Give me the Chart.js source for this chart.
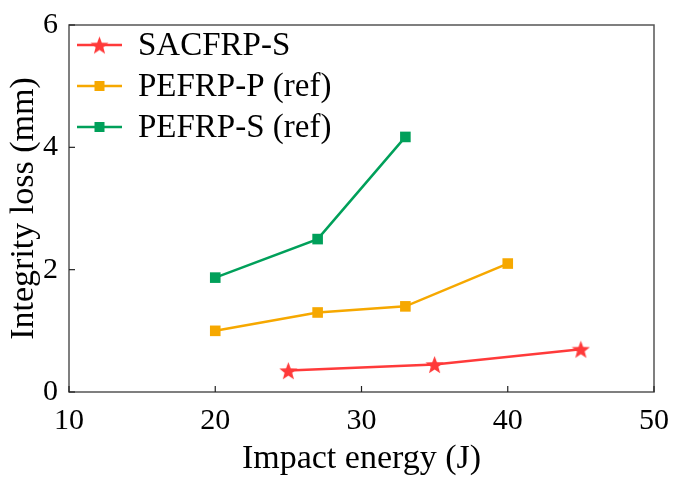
<!DOCTYPE html>
<html>
<head>
<meta charset="utf-8">
<script src="https://cdn.jsdelivr.net/npm/chart.js@4.4.1/dist/chart.umd.min.js"></script>
<style>
  html, body { margin: 0; padding: 0; background: #fff; }
  #wrap { width: 673px; height: 483px; }
</style>
</head>
<body>
<div id="wrap"><canvas id="lossChart" width="673" height="483"></canvas></div>
<script>
// impact energy (J) vs integrity loss (mm)
const sacEnergy = [25, 35, 45];
const sacLoss = [0.35, 0.45, 0.7];
const pefrpPEnergy = [20, 27, 33, 40];
const pefrpPLoss = [1.0, 1.3, 1.4, 2.1];
const pefrpSEnergy = [20, 27, 33];
const pefrpSLoss = [1.87, 2.5, 4.17];

const seriesNames = ["SACFRP-S", "PEFRP-P (ref)", "PEFRP-S (ref)"];
const xTicks = [10, 20, 30, 40, 50];
const yTicks = [0, 2, 4, 6];

const RED = "#ff3a3a";
const ORANGE = "#f6a800";
const GREEN = "#00a05a";
const FONT = "'Liberation Serif', 'Times New Roman', serif";

// filled five-pointed star used as a point image
function makeStar(size, color) {
	const c = document.createElement("canvas");
	c.width = size;
	c.height = size;
	const g = c.getContext("2d");
	const cx = size / 2, cy = size / 2 + 1;
	const outer = size / 2, inner = outer * 0.42;
	g.beginPath();
	for (let i = 0; i < 10; i++) {
		const r = i % 2 === 0 ? outer : inner;
		const a = -Math.PI / 2 + (i * Math.PI) / 5;
		const px = cx + r * Math.cos(a);
		const py = cy + r * Math.sin(a);
		if (i === 0) g.moveTo(px, py);
		else g.lineTo(px, py);
	}
	g.closePath();
	g.fillStyle = color;
	g.fill();
	return c;
}

const starImg = makeStar(19, RED);
const toPoints = (xs, ys) => xs.map((x, i) => ({ x: x, y: ys[i] }));

// box around plot + inward tick marks
const framePlugin = {
	id: "frame",
	afterDraw(chart) {
		const { ctx, chartArea: a, scales } = chart;
		ctx.save();
		ctx.strokeStyle = "#555";
		ctx.lineWidth = 1.5;
		ctx.strokeRect(a.left, a.top, a.right - a.left, a.bottom - a.top);
		ctx.strokeStyle = "#222";
		ctx.lineWidth = 1.2;
		xTicks.forEach((v) => {
			const px = scales.x.getPixelForValue(v);
			ctx.beginPath();
			ctx.moveTo(px, a.bottom);
			ctx.lineTo(px, a.bottom - 6);
			ctx.stroke();
		});
		yTicks.forEach((v) => {
			const py = scales.y.getPixelForValue(v);
			ctx.beginPath();
			ctx.moveTo(a.left, py);
			ctx.lineTo(a.left + 6, py);
			ctx.stroke();
		});
		ctx.restore();
	},
};

// legend with line + marker, drawn inside the plot area
const legendPlugin = {
	id: "lineLegend",
	afterDraw(chart) {
		const ctx = chart.ctx;
		const a = chart.chartArea;
		ctx.save();
		chart.data.datasets.forEach((ds, i) => {
			const y = a.top + 20 + i * 41;
			const x0 = a.left + 8;
			const x1 = a.left + 53;
			ctx.strokeStyle = ds.borderColor;
			ctx.lineWidth = 2.5;
			ctx.beginPath();
			ctx.moveTo(x0, y);
			ctx.lineTo(x1, y);
			ctx.stroke();
			const mx = (x0 + x1) / 2;
			if (ds.pointStyle === starImg) {
				ctx.drawImage(starImg, mx - starImg.width / 2, y - starImg.height / 2);
			} else {
				ctx.fillStyle = ds.pointBackgroundColor;
				ctx.fillRect(mx - 5, y - 5, 10, 10);
			}
			ctx.fillStyle = "#000";
			ctx.font = "33px " + FONT;
			ctx.textBaseline = "middle";
			ctx.fillText(ds.label, a.left + 69, y + 1);
		});
		ctx.restore();
	},
};

const ctx = document.getElementById("lossChart").getContext("2d");

new Chart(ctx, {
	type: "line",
	data: {
		datasets: [
			{
				label: seriesNames[0],
				data: toPoints(sacEnergy, sacLoss),
				borderColor: RED,
				backgroundColor: RED,
				pointBackgroundColor: RED,
				pointStyle: starImg,
				borderWidth: 2.5,
			},
			{
				label: seriesNames[1],
				data: toPoints(pefrpPEnergy, pefrpPLoss),
				borderColor: ORANGE,
				backgroundColor: ORANGE,
				pointBackgroundColor: ORANGE,
				pointStyle: "rect",
				pointRadius: 7.5,
				pointBorderWidth: 0,
				borderWidth: 2.5,
			},
			{
				label: seriesNames[2],
				data: toPoints(pefrpSEnergy, pefrpSLoss),
				borderColor: GREEN,
				backgroundColor: GREEN,
				pointBackgroundColor: GREEN,
				pointStyle: "rect",
				pointRadius: 7.5,
				pointBorderWidth: 0,
				borderWidth: 2.5,
			},
		],
	},
	options: {
		responsive: false,
		animation: false,
		layout: { padding: { top: 25, right: 19, left: 0, bottom: 0 } },
		plugins: {
			legend: { display: false },
			tooltip: { enabled: false },
		},
		scales: {
			x: {
				type: "linear",
				min: 10,
				max: 50,
				afterBuildTicks: (s) => { s.ticks = xTicks.map((v) => ({ value: v })); },
				afterFit: (s) => { s.height = 91; },
				grid: { display: false },
				border: { display: false },
				ticks: {
					color: "#000",
					padding: 3,
					font: { family: FONT, size: 30 },
				},
				title: {
					display: true,
					text: "Impact energy (J)",
					color: "#000",
					padding: { top: 12 },
					font: { family: FONT, size: 34 },
				},
			},
			y: {
				min: 0,
				max: 6,
				afterBuildTicks: (s) => { s.ticks = yTicks.map((v) => ({ value: v })); },
				afterFit: (s) => { s.width = 69; },
				grid: { display: false },
				border: { display: false },
				ticks: {
					color: "#000",
					padding: 3,
					font: { family: FONT, size: 30 },
				},
				title: {
					display: true,
					text: "Integrity loss (mm)",
					color: "#000",
					padding: { bottom: 0 },
					font: { family: FONT, size: 34 },
				},
			},
		},
	},
	plugins: [framePlugin, legendPlugin],
});
</script>
</body>
</html>
